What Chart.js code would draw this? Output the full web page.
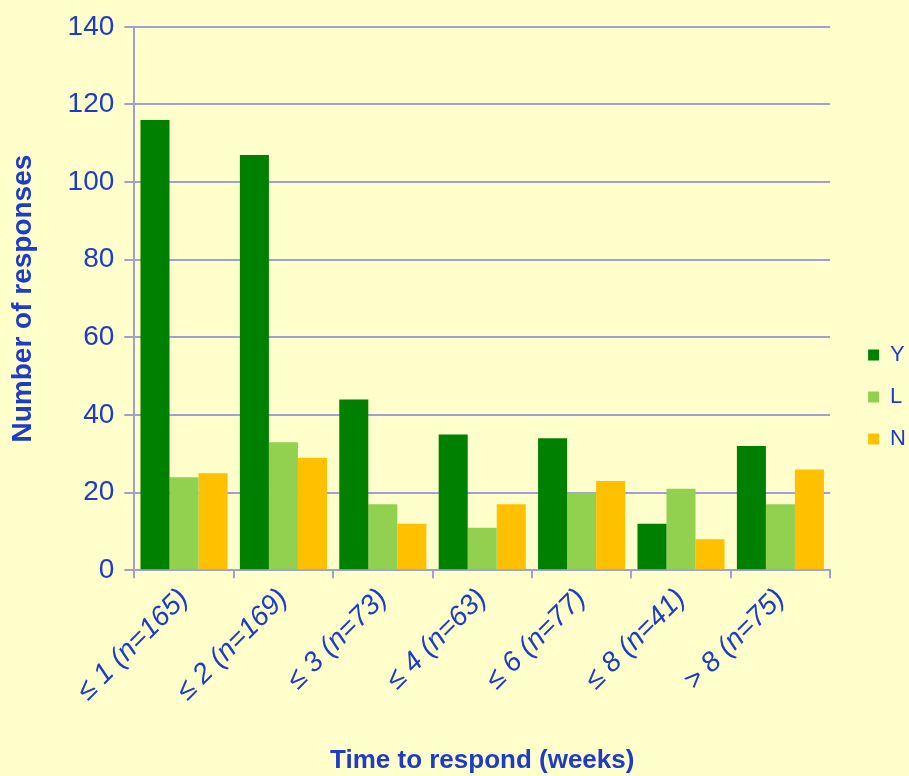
<!DOCTYPE html>
<html>
<head>
<meta charset="utf-8">
<script src="https://cdn.jsdelivr.net/npm/chart.js@4"></script>
<style>
  html, body { margin: 0; padding: 0; background: #FFFFCC; }
  #wrap { width: 909px; height: 776px; }
</style>
</head>
<body>
<div id="wrap"><canvas id="chart" width="909" height="776"></canvas></div>
<script>
const categories = ['≤ 1 (n=165)', '≤ 2 (n=169)', '≤ 3 (n=73)', '≤ 4 (n=63)', '≤ 6 (n=77)', '≤ 8 (n=41)', '> 8 (n=75)'];
const yValues = [116, 107, 44, 35, 34, 12, 32];
const lValues = [24, 33, 17, 11, 20, 21, 17];
const nValues = [25, 29, 12, 17, 23, 8, 26];
const yTicks = [0, 20, 40, 60, 80, 100, 120, 140];

const blue = '#1E3CC8';
const gridColor = '#A0A0D4';
const fontFamily = '"Liberation Sans", Arial, sans-serif';

// paint the yellow background behind the chart
const bgPlugin = {
    id: 'bg',
    beforeDraw(chart) {
        const ctx = chart.ctx;
        ctx.save();
        ctx.fillStyle = '#FFFFCC';
        ctx.fillRect(0, 0, chart.width, chart.height);
        ctx.restore();
    },
};

// nudge the legend a bit away from the plot, like the original
const legendShift = {
    id: 'legendShift',
    afterLayout(chart) {
        const lg = chart.legend;
        if (!lg) return;
        lg.left += 18;
        lg.right += 18;
        lg.top += 5;
        lg.bottom += 5;
    },
};

const data = {
    labels: categories,
    datasets: [
        { label: 'Y', data: yValues, backgroundColor: '#008000' },
        { label: 'L', data: lValues, backgroundColor: '#92D050' },
        { label: 'N', data: nValues, backgroundColor: '#FFC000' },
    ],
};

new Chart(document.getElementById('chart'), {
    type: 'bar',
    data: data,
    plugins: [bgPlugin, legendShift],
    options: {
        responsive: false,
        animation: false,
        layout: { padding: { top: 8, right: 11, left: 6, bottom: 0 } },
        datasets: {
            bar: { categoryPercentage: 0.876, barPercentage: 1.0 },
        },
        scales: {
            x: {
                grid: {
                    display: true,
                    drawOnChartArea: false,
                    color: gridColor,
                    tickLength: 8,
                    lineWidth: 2,
                },
                border: { color: gridColor, width: 2 },
                ticks: {
                    color: blue,
                    maxRotation: 45,
                    minRotation: 45,
                    padding: 4,
                    font: { size: 28, family: fontFamily, style: 'italic' },
                },
                title: {
                    display: true,
                    text: 'Time to respond (weeks)',
                    color: blue,
                    padding: { top: 33, bottom: 0 },
                    font: { size: 26, family: fontFamily, weight: 'bold' },
                },
            },
            y: {
                min: 0,
                max: 140,
                afterBuildTicks(axis) {
                    axis.ticks = yTicks.map(v => ({ value: v }));
                },
                grid: {
                    color: gridColor,
                    lineWidth: 2,
                    tickLength: 10,
                },
                border: { color: gridColor, width: 2 },
                ticks: {
                    color: blue,
                    padding: 10,
                    font: { size: 28, family: fontFamily },
                },
                title: {
                    display: true,
                    text: 'Number of responses',
                    color: blue,
                    padding: { top: 0, bottom: 18 },
                    font: { size: 28, family: fontFamily, weight: 'bold' },
                },
            },
        },
        plugins: {
            legend: {
                position: 'right',
                align: 'center',
                labels: {
                    color: blue,
                    boxWidth: 11,
                    boxHeight: 11,
                    padding: 20,
                    font: { size: 22, family: fontFamily },
                },
            },
            tooltip: { enabled: false },
        },
    },
});
</script>
</body>
</html>
